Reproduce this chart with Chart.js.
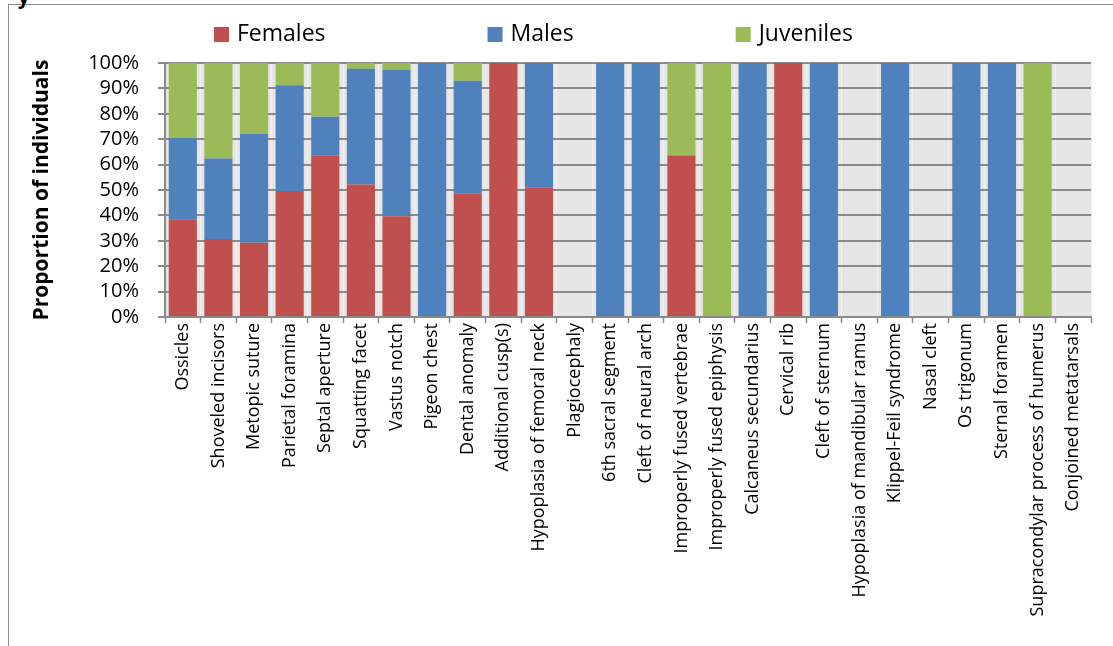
<!DOCTYPE html>
<html>
<head>
<meta charset="utf-8">
<script src="https://cdn.jsdelivr.net/npm/chart.js@4/dist/chart.umd.min.js"></script>
<style>
  body { margin: 0; background: #fff; overflow: hidden; }
  #wrap { position: relative; width: 1113px; height: 646px; }
  #frame { position: absolute; left: 8px; top: 4px; right: 0; bottom: 0; border-top: 1px solid #8c8c8c; border-left: 1px solid #8c8c8c; }
  #cut { position: absolute; left: 18px; top: -17px; font: bold 20px "Open Sans"; color: #000; }
  canvas { position: absolute; left: 0; top: 0; }
</style>
</head>
<body>
<div id="wrap">
  <div id="frame"></div>
  <div id="cut">y</div>
  <canvas id="chart" width="1113" height="646"></canvas>
</div>
<script>
const categories = [
  'Ossicles', 'Shoveled incisors', 'Metopic suture', 'Parietal foramina', 'Septal aperture',
  'Squatting facet', 'Vastus notch', 'Pigeon chest', 'Dental anomaly', 'Additional cusp(s)',
  'Hypoplasia of femoral neck', 'Plagiocephaly', '6th sacral segment', 'Cleft of neural arch',
  'Improperly fused vertebrae', 'Improperly fused epiphysis', 'Calcaneus secundarius', 'Cervical rib',
  'Cleft of sternum', 'Hypoplasia of mandibular ramus', 'Klippel-Feil syndrome', 'Nasal cleft',
  'Os trigonum', 'Sternal foramen', 'Supracondylar process of humerus', 'Conjoined metatarsals'
];

// percent of individuals per trait
const females   = [38.5, 30.7, 29.2, 49.6, 63.5, 52.2, 39.7, 0, 48.7, 100, 50.9, 0, 0, 0, 63.6, 0, 0, 100, 0, 0, 0, 0, 0, 0, 0, 0];
const males     = [32.1, 31.7, 42.9, 41.6, 15.3, 45.5, 57.6, 100, 44.3, 0, 49.1, 0, 100, 100, 0, 0, 100, 0, 100, 0, 100, 0, 100, 100, 0, 0];
const juveniles = [29.4, 37.6, 27.9, 8.8, 21.2, 2.3, 2.7, 0, 7.0, 0, 0, 0, 0, 0, 36.4, 100, 0, 0, 0, 0, 0, 0, 0, 0, 100, 0];

const yTicks = [0, 10, 20, 30, 40, 50, 60, 70, 80, 90, 100];

const gridGray = '#8a8a8a';

// gray plot background
const plotBg = {
  id: 'plotBg',
  beforeDraw(chart) {
    const { ctx, chartArea: a } = chart;
    ctx.save();
    ctx.fillStyle = '#e6e6e6';
    ctx.fillRect(a.left, a.top, a.right - a.left, a.bottom - a.top);
    ctx.restore();
  }
};

// Excel style legend, widely spaced items
const wideLegend = {
  id: 'wideLegend',
  afterDraw(chart) {
    const ctx = chart.ctx;
    ctx.save();
    ctx.font = '23px "Open Sans"';
    ctx.textBaseline = 'middle';
    let x = 214;
    const y = 34;
    chart.data.datasets.forEach(ds => {
      ctx.fillStyle = ds.backgroundColor;
      ctx.fillRect(x, y - 7, 15, 15);
      ctx.fillStyle = '#000';
      ctx.fillText(ds.label, x + 23, y);
      x += 23 + ctx.measureText(ds.label).width + 162;
    });
    ctx.restore();
  }
};

new Chart(document.getElementById('chart'), {
  type: 'bar',
  data: {
    labels: categories,
    datasets: [
      { label: 'Females', data: females, backgroundColor: '#C0504D' },
      { label: 'Males', data: males, backgroundColor: '#4F81BD' },
      { label: 'Juveniles', data: juveniles, backgroundColor: '#9BBB59' }
    ]
  },
  options: {
    responsive: false,
    animation: false,
    devicePixelRatio: 1,
    layout: { padding: { top: 63, right: 22, left: 0, bottom: 0 } },
    datasets: { bar: { categoryPercentage: 1, barPercentage: 0.79 } },
    plugins: {
      legend: { display: false },
      tooltip: { enabled: false }
    },
    scales: {
      x: {
        stacked: true,
        grid: { color: '#f2f2f2', lineWidth: 1, tickColor: gridGray, tickWidth: 1.5, tickLength: 6, offset: true },
        border: { color: gridGray, width: 2 },
        ticks: {
          autoSkip: false, minRotation: 90, maxRotation: 90, padding: 0,
          color: '#000', font: { family: 'Open Sans', size: 18 }
        },
        afterFit(scale) { scale.height = 329; }
      },
      y: {
        stacked: true,
        min: 0,
        max: 100,
        afterBuildTicks(scale) { scale.ticks = yTicks.map(v => ({ value: v })); },
        grid: { color: gridGray, lineWidth: 2, tickLength: 7 },
        border: { color: gridGray, width: 2 },
        ticks: {
          autoSkip: false, padding: 19, color: '#000', font: { family: 'Open Sans', size: 20 },
          callback: v => v + '%'
        },
        title: {
          display: true,
          text: 'Proportion of individuals',
          color: '#000',
          font: { family: 'Open Sans', size: 21, weight: 'bold' },
          padding: { top: 29, bottom: 0 }
        },
        afterFit(scale) { scale.width = 165; }
      }
    }
  },
  plugins: [plotBg, wideLegend]
});
</script>
</body>
</html>
